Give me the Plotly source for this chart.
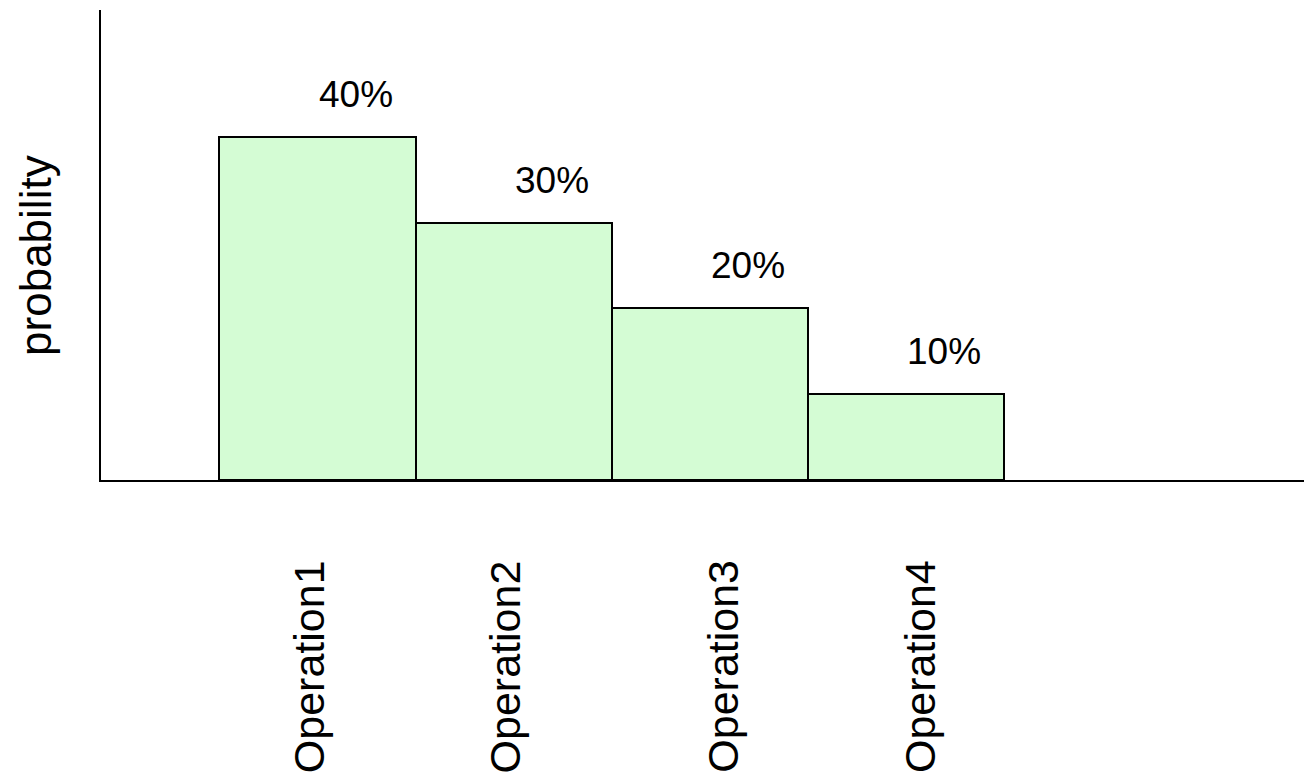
import plotly.graph_objects as go

# Operation probabilities (percent)
operations = ["Operation1", "Operation2", "Operation3", "Operation4"]
probabilities = [40, 30, 20, 10]
value_labels = ["40%", "30%", "20%", "10%"]

# small horizontal nudges for the rotated category labels (px)
label_nudge = [-9, -9, 13, 13]

FONT = "Liberation Sans, Arial, sans-serif"

fig = go.Figure(
    go.Bar(
        x=operations,
        y=probabilities,
        width=1.0,
        marker=dict(color="#d4fcd4", line=dict(color="black", width=2)),
        hoverinfo="skip",
    )
)

annotations = []
# value labels above each bar, offset to the right
for op, val, txt in zip(operations, probabilities, value_labels):
    annotations.append(dict(
        x=op, y=val, xref="x", yref="y", text=txt, showarrow=False,
        xanchor="center", yanchor="bottom", xshift=38, yshift=20,
        font=dict(family=FONT, size=37, color="black"),
    ))

# rotated category labels below the axis
for op, dx in zip(operations, label_nudge):
    annotations.append(dict(
        x=op, y=-0.628, xref="x", yref="paper", text=op, showarrow=False,
        textangle=-90, xanchor="center", yanchor="bottom", xshift=dx,
        font=dict(family=FONT, size=43, color="black"),
    ))

# y-axis title
annotations.append(dict(
    x=-0.0545, y=0.4777, xref="paper", yref="paper", text="probability",
    showarrow=False, textangle=-90, xanchor="center", yanchor="middle",
    font=dict(family=FONT, size=44, color="black"),
))

fig.update_layout(
    width=1304, height=774,
    margin=dict(l=101, r=0, t=10, b=294),
    paper_bgcolor="white", plot_bgcolor="white",
    bargap=0, showlegend=False,
    annotations=annotations,
    xaxis=dict(
        range=[-1.103, 5.026], showticklabels=False, ticks="",
        showgrid=False, zeroline=False,
        showline=True, linecolor="black", linewidth=2,
    ),
    yaxis=dict(
        range=[0, 54.8], showticklabels=False, ticks="",
        showgrid=False, zeroline=False,
        showline=True, linecolor="black", linewidth=2,
    ),
)

fig.write_html("out.html")
